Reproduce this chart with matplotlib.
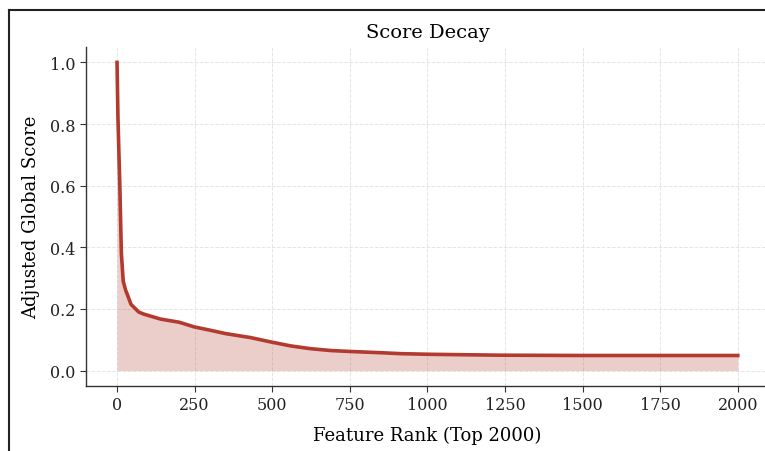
import matplotlib
matplotlib.use("Agg")
import matplotlib.pyplot as plt
from matplotlib.lines import Line2D

# values
ranks = [0, 3, 9, 14, 20, 28, 34, 45, 70, 87, 141, 200, 248, 300, 350,
         431, 495, 560, 624, 690, 752, 850, 913, 1000, 1074, 1235, 1500, 1750, 2000]
scores = [1.0, 0.82, 0.60, 0.38, 0.29, 0.26, 0.245, 0.215, 0.19, 0.183, 0.167, 0.157, 0.142, 0.131, 0.12,
          0.107, 0.093, 0.08, 0.071, 0.065, 0.062, 0.058, 0.055, 0.053, 0.052, 0.050, 0.049, 0.049, 0.049]
xticks = [0, 250, 500, 750, 1000, 1250, 1500, 1750, 2000]
yticks = [0.0, 0.2, 0.4, 0.6, 0.8, 1.0]

plt.rcParams['font.family'] = ['DejaVu Serif']

fig = plt.figure(figsize=(7.65, 4.52), dpi=100)
ax = fig.add_axes([0.1124, 0.1438, 0.8926, 0.75])

col = '#b23a2f'
ax.fill_between(ranks, scores, 0, color=col, alpha=0.25, linewidth=0)
ax.plot(ranks, scores, color=col, linewidth=2.6)

ax.set_xticks(xticks)
ax.set_yticks(yticks)
ax.set_xlim(-100, 2100)
ax.set_ylim(-0.05, 1.05)
ax.grid(True, linestyle='--', color='#d9d9d9', linewidth=0.7, alpha=0.7)
ax.set_axisbelow(True)
for s in ['top', 'right']:
    ax.spines[s].set_visible(False)
for s in ['left', 'bottom']:
    ax.spines[s].set_color('#333333')
    ax.spines[s].set_linewidth(1.0)
ax.tick_params(colors='#333333', labelcolor='#222222', length=4, labelsize=11.5)

ax.set_title('Score Decay', fontsize=14, pad=7)
ax.set_xlabel('Feature Rank (Top 2000)', fontsize=13, labelpad=9)
ax.set_ylabel('Adjusted Global Score', fontsize=13, labelpad=7)

# frame lines seen at the top and left edge of the screenshot
fig.add_artist(Line2D([0.0124, 1.0], [0.976, 0.976], transform=fig.transFigure, color='#222222', lw=1.5))
fig.add_artist(Line2D([0.0124, 0.0124], [0.0, 0.976], transform=fig.transFigure, color='#222222', lw=1.5))

fig.savefig('out.png', dpi=100)
